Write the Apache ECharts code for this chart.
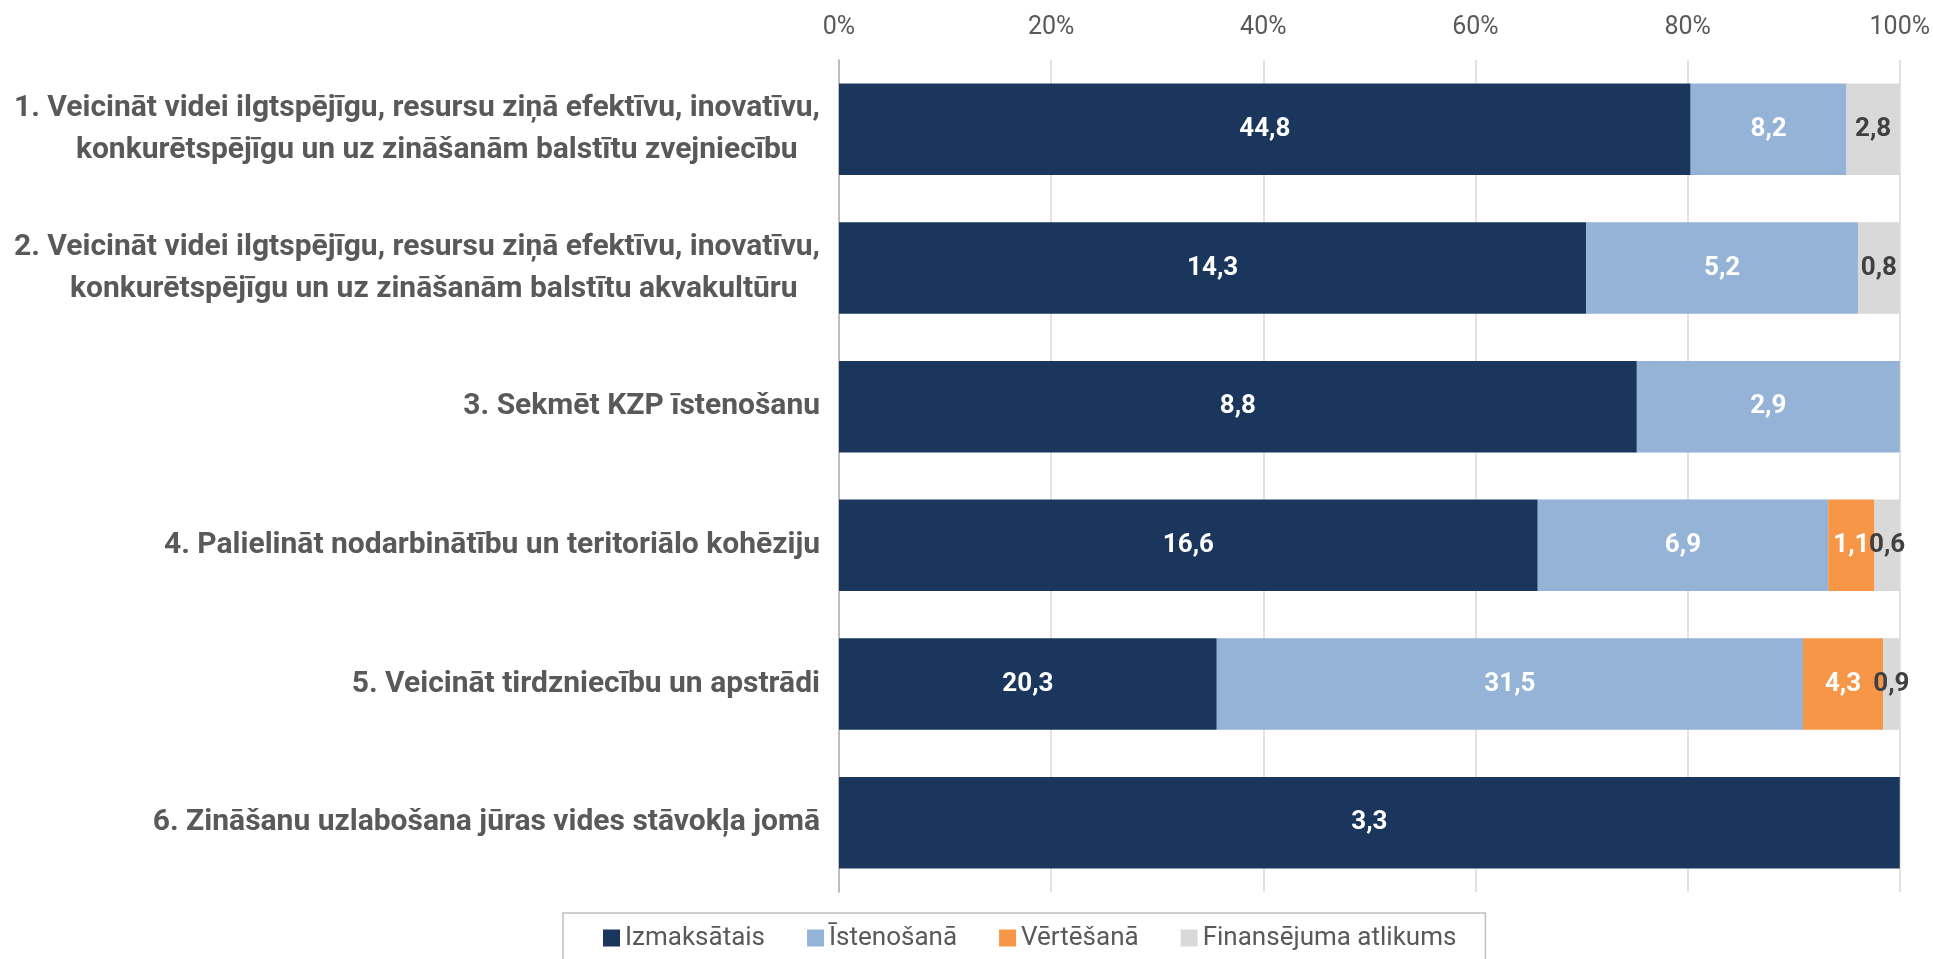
<!DOCTYPE html>
<html><head><meta charset="utf-8">
<script src="https://cdn.jsdelivr.net/npm/echarts@6/dist/echarts.min.js"></script>
<style>html,body{margin:0;padding:0;background:#fff}#c{width:1933px;height:959px}</style>
</head><body><div id="c"></div>
<script>
const categories = [
  "1. Veicināt videi ilgtspējīgu, resursu ziņā efektīvu, inovatīvu,\nkonkurētspējīgu un uz zināšanām balstītu zvejniecību",
  "2. Veicināt videi ilgtspējīgu, resursu ziņā efektīvu, inovatīvu,\nkonkurētspējīgu un uz zināšanām balstītu akvakultūru",
  "3. Sekmēt KZP īstenošanu",
  "4. Palielināt nodarbinātību un teritoriālo kohēziju",
  "5. Veicināt tirdzniecību un apstrādi",
  "6. Zināšanu uzlabošana jūras vides stāvokļa jomā"
];
const seriesNames = ["Izmaksātais", "Īstenošanā", "Vērtēšanā", "Finansējuma atlikums"];
const izmaksatais = [44.8, 14.3, 8.8, 16.6, 20.3, 3.3];
const istenosana  = [8.2, 5.2, 2.9, 6.9, 31.5, 0];
const vertesana   = [0, 0, 0, 1.1, 4.3, 0];
const atlikums    = [2.8, 0.8, 0, 0.6, 0.9, 0];
const xTicks = [0, 20, 40, 60, 80, 100];

const raw = [izmaksatais, istenosana, vertesana, atlikums];
const totals = categories.map((_, i) => raw.reduce((s, a) => s + a[i], 0));
const colors = ["#1b365d", "#95b3d7", "#f79646", "#d9d9d9"];
const labelColors = ["#ffffff", "#ffffff", "#ffffff", "#404040"];
const FONT = "Roboto, sans-serif";

const chart = echarts.init(document.getElementById('c'));
chart.setOption({
  animation: false,
  backgroundColor: '#fff',
  grid: { left: 839, right: 32, top: 60, height: 832, containLabel: false },
  xAxis: {
    type: 'value', position: 'top', min: xTicks[0], max: xTicks[xTicks.length - 1], interval: 20,
    axisLine: { show: false }, axisTick: { show: false },
    axisLabel: { formatter: '{value}%', color: '#595959', fontSize: 25, fontFamily: FONT, margin: 20 },
    splitLine: { show: true, lineStyle: { color: '#d9d9d9', width: 1.5 } }
  },
  yAxis: {
    type: 'category', inverse: true, data: categories,
    axisLine: { show: true, lineStyle: { color: '#bfbfbf', width: 2 } },
    axisTick: { show: false },
    axisLabel: {
      color: '#595959', fontSize: 30, fontWeight: 'bold', fontFamily: FONT, margin: 19, lineHeight: 42, align: 'right',
      formatter: v => v.split('\n').map((l, i) => i > 0 ? l + '\u00a0\u00a0\u00a0' : l).join('\n')
    }
  },
  legend: {
    bottom: -12, left: 563, orient: 'horizontal',
    data: seriesNames,
    icon: 'rect', itemWidth: 17, itemHeight: 17, itemGap: 42,
    borderColor: '#bfbfbf', borderWidth: 1.5,
    padding: [12, 29, 20, 40],
    textStyle: { color: '#595959', fontSize: 26, fontFamily: FONT }
  },
  series: raw.map((arr, k) => ({
    name: seriesNames[k], type: 'bar', stack: 'total', barWidth: '66%',
    itemStyle: { color: colors[k] },
    data: arr.map((v, i) => ({ value: v / totals[i] * 100, raw: v })),
    label: {
      show: true, position: 'inside', color: labelColors[k], fontSize: 26, fontWeight: 'bold', fontFamily: FONT,
      formatter: p => p.data.raw > 0 ? p.data.raw.toFixed(1).replace('.', ',') : ''
    }
  }))
});
</script></body></html>
